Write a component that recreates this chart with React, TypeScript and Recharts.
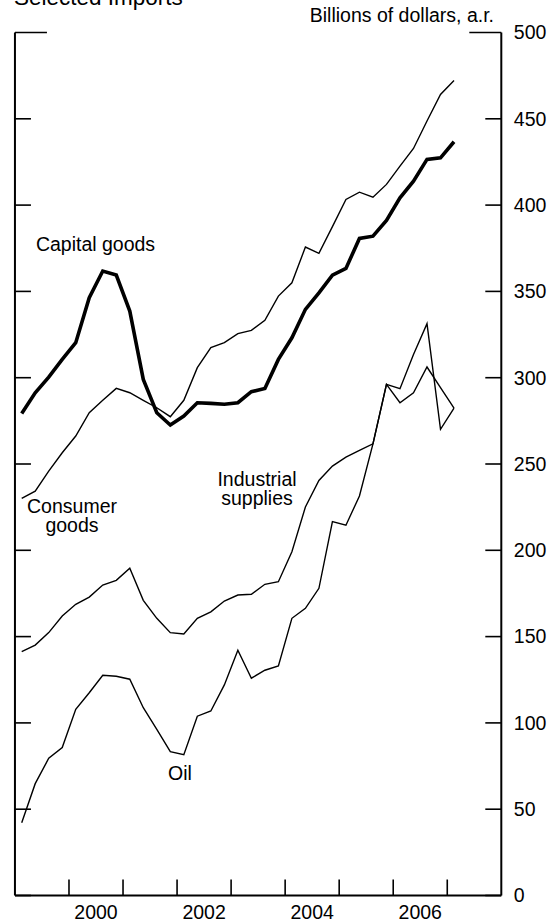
import { LineChart, Line, XAxis, YAxis } from "recharts";

// quarterly, 1999Q1 - 2007Q1, billions of dollars (annual rate)
const QUARTERS = [
  "1999Q1", "1999Q2", "1999Q3", "1999Q4",
  "2000Q1", "2000Q2", "2000Q3", "2000Q4",
  "2001Q1", "2001Q2", "2001Q3", "2001Q4",
  "2002Q1", "2002Q2", "2002Q3", "2002Q4",
  "2003Q1", "2003Q2", "2003Q3", "2003Q4",
  "2004Q1", "2004Q2", "2004Q3", "2004Q4",
  "2005Q1", "2005Q2", "2005Q3", "2005Q4",
  "2006Q1", "2006Q2", "2006Q3", "2006Q4",
  "2007Q1",
];

const CAPITAL_GOODS = [
  279.3, 291.3, 300.3, 310.6, 320.3, 346.3, 361.8, 359.5, 338.6, 299, 279.7,
  272.6, 277.8, 285.5, 285.1, 284.6, 285.5, 291.9, 293.8, 310.6, 323.1, 339.6,
  349.2, 359.4, 363.3, 380.7, 382, 391.1, 404.2, 413.9, 426.5, 427.4, 436.7,
];

const CONSUMER_GOODS = [
  230.1, 234.3, 245.9, 256.5, 266.2, 279.7, 286.9, 293.8, 291.3, 286.9, 282.6,
  277.4, 286.9, 305.8, 317.4, 320.3, 325.5, 327.4, 333.2, 347.3, 355, 375.7,
  372, 387.5, 403.3, 407.5, 404.6, 412, 422.6, 432.8, 448.7, 464.1, 472.2,
];

const INDUSTRIAL_SUPPLIES = [
  141.3, 145.1, 152.3, 161.9, 168.7, 172.9, 179.9, 182.6, 189.6, 171, 160.6,
  152.3, 151.5, 160.6, 164.3, 170.6, 174.1, 174.5, 180.3, 181.8, 199.2, 225.1,
  240.5, 248.8, 254, 257.9, 261.7, 296.1, 285.5, 291.3, 306.2, 294.2, 282.4,
];

const OIL = [
  42.2, 64.8, 79.5, 85.7, 107.9, 117.5, 127.6, 127, 125.3, 108.8, 96.3, 83.3,
  81.6, 103.9, 106.9, 122, 142.1, 125.9, 130.5, 133, 160.6, 166.4, 178, 216.6,
  214.5, 231.5, 261.7, 296.1, 293.6, 313.5, 331.3, 270.1, 282.4,
];

const Y_TICKS = [0, 50, 100, 150, 200, 250, 300, 350, 400, 450, 500];
const YEAR_MARKS = [2000, 2001, 2002, 2003, 2004, 2005, 2006, 2007];
const YEAR_LABELS = ["2000", "2002", "2004", "2006"];

const FONT = "'Liberation Sans', Arial, Helvetica, sans-serif";

// mid-quarter position in years
const toYear = (q: string) =>
  Number(q.slice(0, 4)) + (Number(q.slice(5)) - 0.5) / 4;

const data = QUARTERS.map((q, i) => ({
  t: toYear(q),
  capital: CAPITAL_GOODS[i],
  consumer: CONSUMER_GOODS[i],
  industrial: INDUSTRIAL_SUPPLIES[i],
  oil: OIL[i],
}));

// tick marks on year boundaries, labels centred inside every other year
const xTicks = [...YEAR_MARKS, ...YEAR_LABELS.map((y) => Number(y) + 0.5)].sort(
  (a, b) => a - b
);

const XTick = ({ x, y, payload }: any) => {
  const v = payload.value;
  if (Number.isInteger(v)) {
    return <line x1={x} x2={x} y1={y} y2={y - 16} stroke="#000" strokeWidth={1.6} />;
  }
  return (
    <text x={x} y={y + 23.5} textAnchor="middle" fontSize={19.5} fill="#000" fontFamily={FONT}>
      {Math.floor(v)}
    </text>
  );
};

const LeftTick = ({ x, y, payload }: any) => {
  const len = payload.value === 500 ? 32 : 16;
  return <line x1={x} x2={x + len} y1={y} y2={y} stroke="#000" strokeWidth={1.6} />;
};

const RightTick = ({ x, y, payload }: any) => {
  const len = payload.value === 500 ? 32 : 16;
  return (
    <g>
      <line x1={x} x2={x - len} y1={y} y2={y} stroke="#000" strokeWidth={1.6} />
      <text x={x + 12.5} y={y} dy="0.35em" fontSize={19.5} fill="#000" fontFamily={FONT}>
        {payload.value}
      </text>
    </g>
  );
};

const axisLine = { stroke: "#000", strokeWidth: 2 };

export default function App() {
  return (
    <div style={{ position: "absolute", left: 0, top: 0, width: 552, height: 923, background: "#fff" }}>
      <LineChart
        width={552}
        height={923}
        data={data}
        margin={{ top: 32.5, right: 0, bottom: 0, left: 13.95 }}
      >
        <XAxis
          dataKey="t"
          type="number"
          domain={[1999, 2008]}
          ticks={xTicks}
          interval={0}
          allowDataOverflow
          height={27.5}
          axisLine={axisLine}
          tickLine={false}
          tickSize={0}
          tickMargin={0}
          tick={XTick}
        />
        <YAxis
          yAxisId="left"
          orientation="left"
          type="number"
          width={1}
          domain={[0, 500]}
          allowDataOverflow
          ticks={Y_TICKS}
          interval={0}
          axisLine={axisLine}
          tickLine={false}
          tickSize={0}
          tickMargin={0}
          tick={LeftTick}
        />
        <YAxis
          yAxisId="right"
          orientation="right"
          type="number"
          width={50.7}
          domain={[0, 500]}
          allowDataOverflow
          ticks={Y_TICKS}
          interval={0}
          axisLine={axisLine}
          tickLine={false}
          tickSize={0}
          tickMargin={0}
          tick={RightTick}
        />
        <Line yAxisId="left" type="linear" dataKey="oil" stroke="#000" strokeWidth={1.4} dot={false} isAnimationActive={false} />
        <Line yAxisId="left" type="linear" dataKey="industrial" stroke="#000" strokeWidth={1.4} dot={false} isAnimationActive={false} />
        <Line yAxisId="right" type="linear" dataKey="consumer" stroke="#000" strokeWidth={1.4} dot={false} isAnimationActive={false} />
        <Line yAxisId="right" type="linear" dataKey="capital" stroke="#000" strokeWidth={3.6} dot={false} isAnimationActive={false} />
      </LineChart>
      <svg
        width={552}
        height={923}
        style={{ position: "absolute", left: 0, top: 0, pointerEvents: "none" }}
        fontFamily={FONT}
        fill="#000"
      >
        <text x={14} y={5} fontSize={22.5}>Selected Imports</text>
        <text x={494} y={22} fontSize={19.5} textAnchor="end">Billions of dollars, a.r.</text>
        <text x={95.5} y={251} fontSize={19.5} textAnchor="middle">Capital goods</text>
        <text x={72} y={512.7} fontSize={19.5} textAnchor="middle">Consumer</text>
        <text x={72} y={531.7} fontSize={19.5} textAnchor="middle">goods</text>
        <text x={257} y={486} fontSize={19.5} textAnchor="middle">Industrial</text>
        <text x={257} y={505} fontSize={19.5} textAnchor="middle">supplies</text>
        <text x={180} y={780} fontSize={19.5} textAnchor="middle">Oil</text>
      </svg>
    </div>
  );
}
